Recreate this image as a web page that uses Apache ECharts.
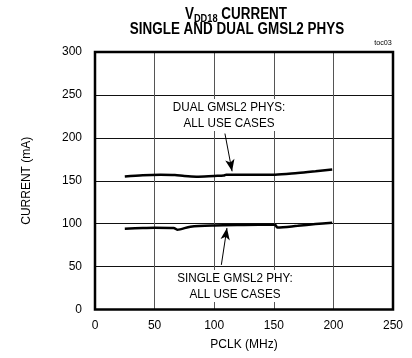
<!DOCTYPE html>
<html>
<head>
<meta charset="utf-8">
<script src="https://cdn.jsdelivr.net/npm/echarts@6/dist/echarts.min.js"></script>
<style>
  html, body { margin: 0; padding: 0; background: #fff; }
  #main { width: 412px; height: 358px; }
</style>
</head>
<body>
<div id="main"></div>
<script>
    // PCLK (MHz) vs supply current (mA)
    var dualPclk    = [25, 40, 55, 67, 75, 85, 100, 108, 110, 130, 151, 170, 185, 199];
    var dualCurrent = [155, 156.5, 157, 156.7, 155.5, 154.8, 155.6, 156, 157, 157, 157, 159, 161, 163];
    var singlePclk    = [25, 40, 50, 66, 69, 80, 100, 125, 151, 153, 170, 185, 199];
    var singleCurrent = [94.2, 95, 95.3, 95, 93, 96.5, 98, 98.5, 98.8, 95.5, 97.5, 99.5, 101];
    var xTicks = [0, 50, 100, 150, 200, 250];
    var yTicks = [0, 50, 100, 150, 200, 250, 300];
    // arrow start/end, in data units
    var dualArrow   = [[109, 205], [115, 161]];
    var singleArrow = [[106, 52], [110.7, 95]];

    var SANS = "'Liberation Sans', Arial, sans-serif";

    function pairs(xs, ys) {
        var out = [];
        for (var i = 0; i < xs.length; i++) out.push([xs[i], ys[i]]);
        return out;
    }

    function arrowLine(a) {
        return {
            silent: true,
            symbol: ['none', 'arrow'],
            symbolSize: [7, 12],
            lineStyle: { color: '#000', width: 1, type: 'solid' },
            label: { show: false },
            data: [[{ coord: a[0] }, { coord: a[1] }]]
        };
    }

    // narrow text, squeezed horizontally around its centre
    function narrowText(x, y, text, size, sx, extra) {
        var st = { text: text, fontFamily: SANS, fontSize: size, fill: '#000', align: 'center', verticalAlign: 'middle' };
        for (var k in (extra || {})) st[k] = extra[k];
        return { type: 'text', x: x, y: y, scaleX: sx, style: st, z: 5, silent: true };
    }

    var option = {
        animation: false,
        backgroundColor: '#fff',
        grid: { left: 95, right: 19, top: 52, bottom: 48.5 },
        xAxis: {
            type: 'value', min: 0, max: 250, interval: 50,
            name: 'PCLK (MHz)', nameLocation: 'middle', nameGap: 29,
            nameTextStyle: { fontFamily: SANS, fontSize: 12, color: '#000' },
            axisLine: { show: false },
            axisTick: { show: false },
            axisLabel: { fontFamily: SANS, fontSize: 12, color: '#000', margin: 10 },
            splitLine: { lineStyle: { color: '#555', width: 1 } }
        },
        yAxis: {
            type: 'value', min: 0, max: 300, interval: 50,
            name: 'CURRENT (mA)', nameLocation: 'middle', nameGap: 62,
            nameTextStyle: { fontFamily: SANS, fontSize: 12, color: '#000' },
            axisLine: { show: false },
            axisTick: { show: false },
            axisLabel: { fontFamily: SANS, fontSize: 12, color: '#000', margin: 13 },
            splitLine: { lineStyle: { color: '#111', width: 1 } }
        },
        series: [
            {
                type: 'line', name: 'dual', data: pairs(dualPclk, dualCurrent),
                symbol: 'none', smooth: 0.3,
                lineStyle: { color: '#000', width: 2.5 },
                markLine: arrowLine(dualArrow)
            },
            {
                type: 'line', name: 'single', data: pairs(singlePclk, singleCurrent),
                symbol: 'none', smooth: 0.3,
                lineStyle: { color: '#000', width: 2.5 },
                markLine: arrowLine(singleArrow)
            }
        ],
        graphic: [
            { type: 'rect', shape: { x: 95, y: 52, width: 298, height: 257.5 }, style: { fill: 'none', stroke: '#000', lineWidth: 2.5 }, z: 10, silent: true },
            narrowText(236, 15, '{v|V}{s|DD18}{v| CURRENT}', 16, 0.84, {
                rich: {
                    v: { fontFamily: SANS, fontWeight: 'bold', fontSize: 16, fill: '#000', lineHeight: 18 },
                    s: { fontFamily: SANS, fontWeight: 'bold', fontSize: 11, fill: '#000', lineHeight: 18, padding: [8, 0, 0, 0] }
                }
            }),
            narrowText(237, 30, 'SINGLE AND DUAL GMSL2 PHYS', 16, 0.84, { fontWeight: 'bold' }),
            narrowText(383, 43, 'toc03', 8, 0.9),
            narrowText(229, 115, 'DUAL GMSL2 PHYS:\nALL USE CASES', 13, 0.9, { lineHeight: 16, backgroundColor: '#fff' }),
            narrowText(235, 286, 'SINGLE GMSL2 PHY:\nALL USE CASES', 13, 0.9, { lineHeight: 16, backgroundColor: '#fff' })
        ]
    };

    var myChart = echarts.init(document.getElementById('main'));
    myChart.setOption(option);
</script>
</body>
</html>
